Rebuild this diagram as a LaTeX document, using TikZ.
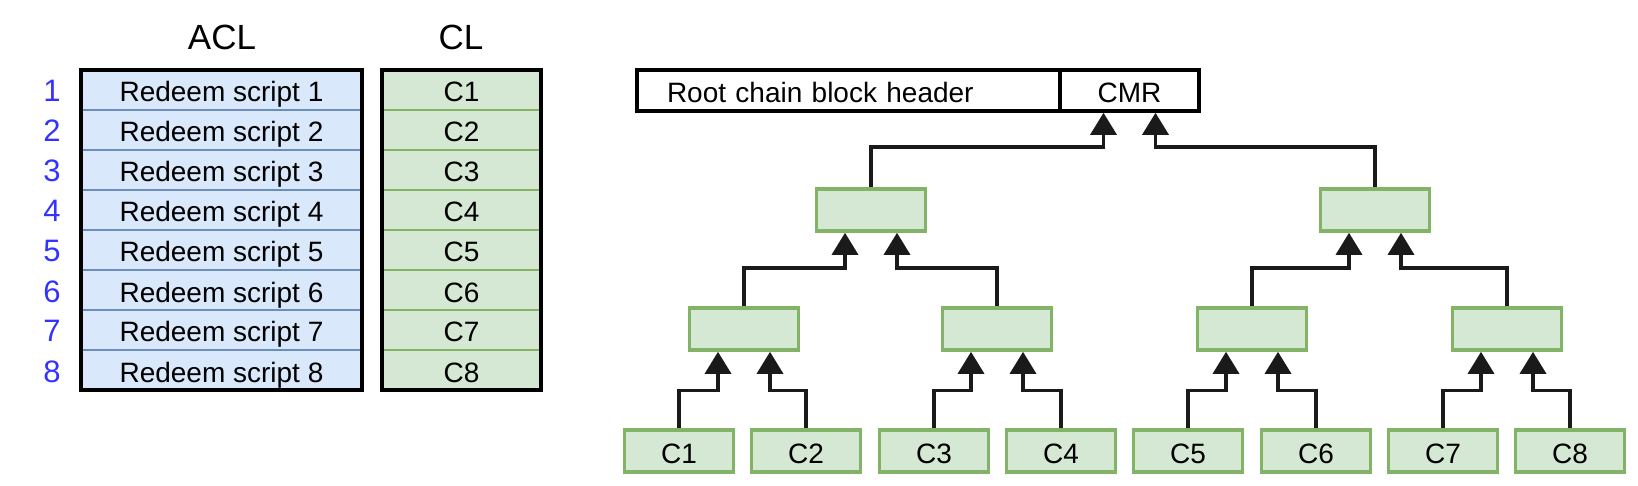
\documentclass[tikz,border=0pt]{standalone}
\usepackage{fontspec}
\setmainfont{Liberation Sans}
\usetikzlibrary{arrows.meta,positioning}
\definecolor{leafgreen}{HTML}{D5E8D4}
\definecolor{leafline}{HTML}{82B366}
\definecolor{rowblue}{HTML}{DAE8FC}
\definecolor{rowline}{HTML}{6C8EBF}
\definecolor{numblue}{HTML}{3333FF}
\definecolor{linkgray}{HTML}{1A1A1A}

\tikzset{
  boxtext/.style={font=\fontsize{14}{16}\selectfont, text height=12pt, text depth=0pt},
  hashbox/.style={boxtext, draw=leafline, fill=leafgreen, line width=1.8pt, minimum width=54.5pt,
    minimum height=21pt, inner sep=0pt},
  aclrow/.style={boxtext, draw=rowline, fill=rowblue, line width=1.4pt, minimum width=140.5pt,
    minimum height=20pt, inner sep=0pt, outer sep=0pt},
  clrow/.style={aclrow, draw=leafline, fill=leafgreen, minimum width=79.5pt},
  tableframe/.style={draw=black, line width=1.8pt},
  headbox/.style={boxtext, draw=black, line width=1.8pt, fill=white, minimum height=20.5pt,
    inner sep=0pt},
  link/.style={draw=linkgray, line width=1.7pt, -{Triangle[width=13pt,length=11pt]}},
  rownum/.style={text=numblue, font=\fontsize{15.5}{18}\selectfont, text height=12pt,
    text depth=0pt, inner sep=0pt},
  coltitle/.style={font=\fontsize{17.5}{20}\selectfont}
}

\begin{document}
\begin{tikzpicture}[x=0.5pt, y=-0.5pt]
\useasboundingbox (0,0) rectangle (1638,486);

% Lists
\node[coltitle] (acltitle) at (222,37) {ACL};
\node[coltitle] (cltitle) at (461,37) {CL};
\foreach \i in {1,...,8} {
  \node[rownum] (num\i) at (52,50+40*\i) {\i};
  \node[aclrow] (acl\i) at (221.5,50+40*\i) {Redeem script \i};
  \node[clrow] (cl\i) at (461.5,50+40*\i) {C\i};
}
\draw[tableframe] (acl1.north west) rectangle (acl8.south east);
\draw[tableframe] (cl1.north west) rectangle (cl8.south east);

% Header
\node[headbox, minimum width=211.5pt, text width=181.5pt, inner xsep=15pt, align=left]
  (hdr) at (848.5,90.5) {Root chain block header};
\node[headbox, minimum width=69.5pt] (cmr) at (1129.5,90.5) {CMR};

% Merkle tree
\node[hashbox] (n14) at (871,210) {};
\node[hashbox] (n58) at (1375,210) {};
\node[hashbox] (n12) at (744,329) {};
\node[hashbox] (n34) at (997,329) {};
\node[hashbox] (n56) at (1252,329) {};
\node[hashbox] (n78) at (1507,329) {};
\foreach \i/\x in {1/679, 2/806, 3/934, 4/1061, 5/1188, 6/1316, 7/1443, 8/1570}
  \node[hashbox] (c\i) at (\x,451) {C\i};

% Leaves to level 2
\draw[link] (c1.north) -- ++(0,-38) -| ([xshift=-13pt]n12.south);
\draw[link] (c2.north) -- ++(0,-38) -| ([xshift=13pt]n12.south);
\draw[link] (c3.north) -- ++(0,-38) -| ([xshift=-13pt]n34.south);
\draw[link] (c4.north) -- ++(0,-38) -| ([xshift=13pt]n34.south);
\draw[link] (c5.north) -- ++(0,-38) -| ([xshift=-13pt]n56.south);
\draw[link] (c6.north) -- ++(0,-38) -| ([xshift=13pt]n56.south);
\draw[link] (c7.north) -- ++(0,-38) -| ([xshift=-13pt]n78.south);
\draw[link] (c8.north) -- ++(0,-38) -| ([xshift=13pt]n78.south);

% Level 2 to level 1
\draw[link] (n12.north) -- ++(0,-38) -| ([xshift=-13pt]n14.south);
\draw[link] (n34.north) -- ++(0,-38) -| ([xshift=13pt]n14.south);
\draw[link] (n56.north) -- ++(0,-38) -| ([xshift=-13pt]n58.south);
\draw[link] (n78.north) -- ++(0,-38) -| ([xshift=13pt]n58.south);

% Level 1 to CMR
\draw[link] (n14.north) -- ++(0,-40) -| ([xshift=-13pt]cmr.south);
\draw[link] (n58.north) -- ++(0,-40) -| ([xshift=13pt]cmr.south);
\end{tikzpicture}
\end{document}
